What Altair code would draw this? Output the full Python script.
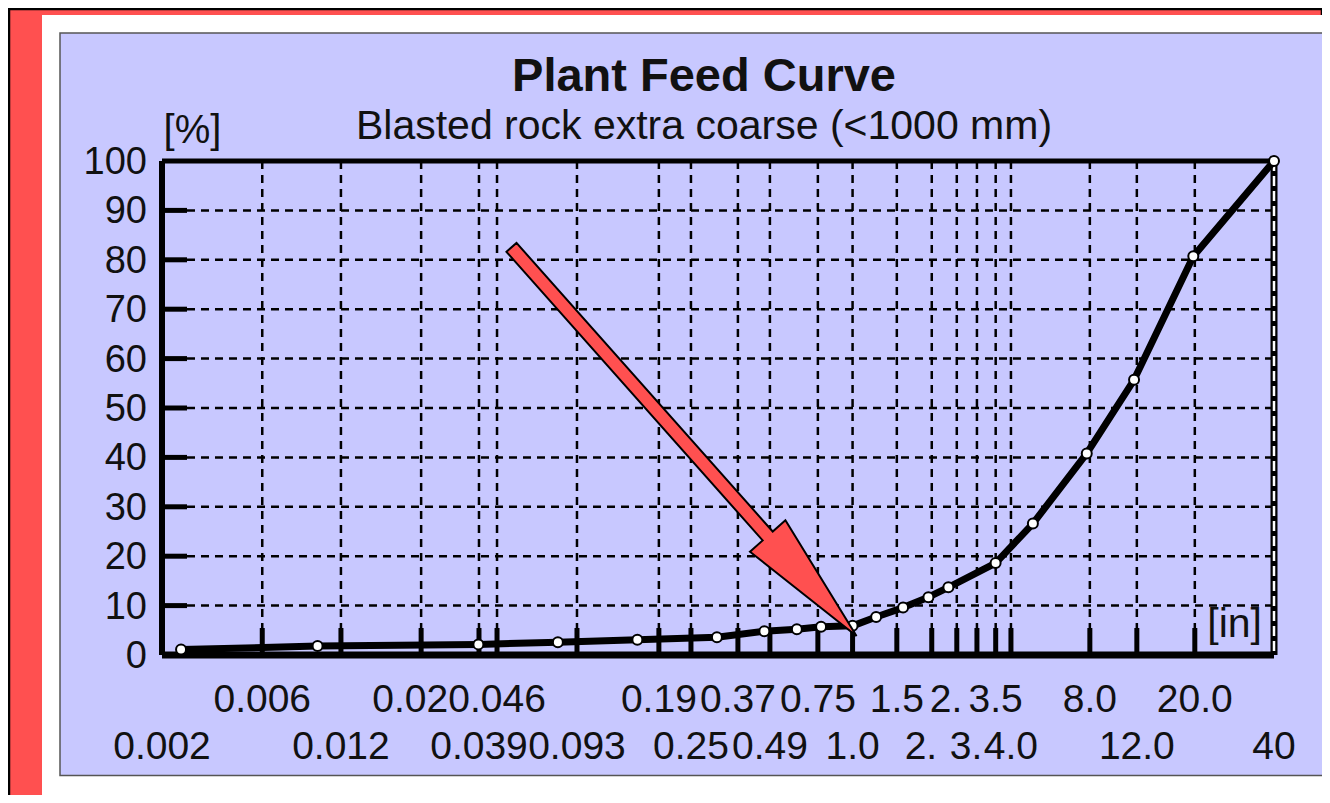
import altair as alt
import pandas as pd

# ---- data ----
size_in = [0.0028, 0.00925, 0.0378, 0.0758, 0.152, 0.305, 0.462, 0.614, 0.759, 1.0,
           1.229, 1.556, 1.942, 2.313, 3.497, 4.847, 7.767, 11.75, 19.74, 40.0]
passing_pct = [1.1, 1.8, 2.15, 2.6, 3.1, 3.6, 4.8, 5.2, 5.7, 5.9,
               7.7, 9.6, 11.7, 13.7, 18.6, 26.6, 40.8, 55.7, 80.7, 100.0]

tick_in = [0.00237, 0.0057, 0.01135, 0.0229, 0.038, 0.0445, 0.0896, 0.1835, 0.243, 0.3665,
           0.485, 0.738, 1.0, 1.473, 2.0, 2.49, 2.97, 3.5, 4.0, 7.98, 12.04, 20.0, 40.0]
# labels as they remain visible in the reference (later labels cover earlier ones)
tick_text = ["0.002", "0.006", "0.012", "0.02", "0.039", "0.046", "0.093", "0.19", "0.25", "0.37",
             "0.49", "0.75", "1.0", "1.5", "2.", "2.", "3.", "3.5", "4.0", "8.0",
             "12.0", "20.0", "40"]
# characters of the full label (clipped ones keep the full label's left edge)
tick_full_len = [5, 5, 5, 5, 5, 5, 5, 4, 4, 4,
                 4, 4, 3, 3, 3, 3, 3, 3, 3, 3,
                 4, 4, 2]
y_labels = [0, 10, 20, 30, 40, 50, 60, 70, 80, 90, 100]
y_grid = [10, 20, 30, 40, 50, 60, 70, 80, 90]

title_text = "Plant Feed Curve"
subtitle_text = "Blasted rock extra coarse (<1000 mm)"
y_unit = "[%]"
x_unit = "[in]"
arrow_tip_in = [1.035]
arrow_tip_pct = [3.85]

# ---- styling ----
W, H = 1112, 494
FONT = "Liberation Sans"
RED = "#FF5050"
LAV = "#C8C8FF"
TXT = "#111111"
LSIZE = 38
XLSIZE = 39

xs = alt.Scale(type="log", domain=[0.00237, 40], nice=False)
ys = alt.Scale(type="linear", domain=[0, 100], nice=False, zero=False)

one = pd.DataFrame({"k": [0]})


def box(x, x2, y, y2, **kw):
    return alt.Chart(one).mark_rect(**kw).encode(
        x=alt.value(x), x2=alt.value(x2), y=alt.value(y), y2=alt.value(y2))


def hline(y, x, x2, **kw):
    return alt.Chart(one).mark_rule(**kw).encode(
        y=alt.value(y), x=alt.value(x), x2=alt.value(x2))


def vline(x, y, y2, **kw):
    return alt.Chart(one).mark_rule(**kw).encode(
        x=alt.value(x), y=alt.value(y), y2=alt.value(y2))


def label(text, x, y, **kw):
    return alt.Chart(pd.DataFrame({"t": [text]})).mark_text(font=FONT, color=TXT, **kw).encode(
        text="t:N", x=alt.value(x), y=alt.value(y))


# backgrounds
outer = box(-153, 1160, -152, 660, fill=RED, stroke="black", strokeWidth=2.5)
white = box(-120, 1200, -146, 634, fill="white")
panel = box(-102, 1200, -128, 614.5, fill=LAV, stroke="#555555", strokeWidth=1.5)

# grid
ygrid_df = pd.DataFrame({"v": y_grid})
hgrid = alt.Chart(ygrid_df).mark_rule(color="black", strokeWidth=2.5, strokeDash=[8, 6]).encode(
    y=alt.Y("v:Q", scale=ys, axis=None), x=alt.value(25), x2=alt.value(W))
yticks = alt.Chart(ygrid_df).mark_rule(color="black", strokeWidth=5).encode(
    y=alt.Y("v:Q", scale=ys, axis=None), x=alt.value(0), x2=alt.value(25))

xt_df = pd.DataFrame({"t": tick_in[1:-1]})
vgrid = alt.Chart(xt_df).mark_rule(color="black", strokeWidth=2.5, strokeDash=[8, 6]).encode(
    x=alt.X("t:Q", scale=xs, axis=None), y=alt.value(0), y2=alt.value(H - 26))
xticks = alt.Chart(xt_df).mark_rule(color="black", strokeWidth=5).encode(
    x=alt.X("t:Q", scale=xs, axis=None), y=alt.value(H), y2=alt.value(H - 27))

# frame
f_left = vline(0, 0, H, color="black", strokeWidth=6)
f_top = hline(0, 0, W, color="black", strokeWidth=5)
f_bottom = hline(H, 0, W, color="black", strokeWidth=7)
f_right = vline(W, 0, H, color="black", strokeWidth=7)
f_right2 = vline(W, 0, H, color="white", strokeWidth=2.5, strokeDash=[10, 5])

# curve
curve = pd.DataFrame({"size": size_in, "pct": passing_pct, "o": list(range(len(size_in)))})
line = alt.Chart(curve).mark_line(color="black", strokeWidth=7, strokeJoin="round").encode(
    x=alt.X("size:Q", scale=xs, axis=None), y=alt.Y("pct:Q", scale=ys, axis=None), order="o:Q")
pts = alt.Chart(curve).mark_point(shape="circle", filled=True, fill="white", stroke="black",
                                   strokeWidth=2, size=100, opacity=1).encode(
    x=alt.X("size:Q", scale=xs, axis=None), y=alt.Y("pct:Q", scale=ys, axis=None))

# arrow (custom symbol, tip at the anchor point)
ARROW = "M0,0 L0.37,2.09 L0.105,2.09 L0.105,8.12 L-0.105,8.12 L-0.105,2.09 L-0.37,2.09 Z"
arrow = alt.Chart(pd.DataFrame({"x": arrow_tip_in, "y": arrow_tip_pct})).mark_point(
    shape=ARROW, size=16384, angle=138.4, filled=True, fill=RED, stroke="black",
    strokeWidth=2, opacity=1).encode(
    x=alt.X("x:Q", scale=xs, axis=None), y=alt.Y("y:Q", scale=ys, axis=None))

# y labels
ylab = alt.Chart(pd.DataFrame({"v": y_labels})).mark_text(
    font=FONT, fontSize=LSIZE, color=TXT, align="right", baseline="middle", dy=2).encode(
    y=alt.Y("v:Q", scale=ys, axis=None), x=alt.value(-15), text="v:Q")

# x labels in two alternating rows
rows = [2 if i % 2 == 0 else 1 for i in range(len(tick_in))]
clipped = [1 if len(tick_text[i]) < tick_full_len[i] else 0 for i in range(len(tick_in))]
xl_df = pd.DataFrame({"t": tick_in, "lab": tick_text, "n": tick_full_len,
                      "row": rows, "clip": clipped})
ROW_Y = {1: H + 45, 2: H + 92}

x_label_layers = []
for r in (1, 2):
    x_label_layers.append(
        alt.Chart(xl_df).transform_filter(f"datum.row == {r} && datum.clip == 0").mark_text(
            font=FONT, fontSize=XLSIZE, color=TXT, align="center", baseline="middle").encode(
            x=alt.X("t:Q", scale=xs, axis=None), y=alt.value(ROW_Y[r]), text="lab:N"))
    for n in sorted({tick_full_len[i] for i in range(len(tick_in)) if clipped[i] and rows[i] == r}):
        half_full = ((n - 1) * 0.556 + 0.278) * XLSIZE / 2
        x_label_layers.append(
            alt.Chart(xl_df).transform_filter(
                f"datum.row == {r} && datum.clip == 1 && datum.n == {n}").mark_text(
                font=FONT, fontSize=XLSIZE, color=TXT, align="left", baseline="middle",
                dx=-half_full).encode(
                x=alt.X("t:Q", scale=xs, axis=None), y=alt.value(ROW_Y[r]), text="lab:N"))

t_title = label(title_text, 542, -84.5, fontSize=47, fontWeight="bold", align="center", baseline="middle")
t_sub = label(subtitle_text, 542, -34.5, fontSize=41, align="center", baseline="middle")
t_yunit = label(y_unit, 30.5, -30.5, fontSize=40, align="center", baseline="middle")
t_xunit = label(x_unit, 1100, 464, fontSize=41, align="right", baseline="middle")

chart = alt.layer(
    outer, white, panel,
    hgrid, vgrid, yticks, xticks,
    f_left, f_top, f_bottom, f_right, f_right2,
    line, pts, arrow,
    ylab, *x_label_layers,
    t_title, t_sub, t_yunit, t_xunit,
).properties(
    width=W, height=H,
    autosize=alt.AutoSizeParams(type="none"),
    padding={"left": 154, "top": 153, "right": 48, "bottom": 140},
    background="white",
).configure_view(stroke=None)

chart.save("out.html", embed_options={"renderer": "svg", "actions": False})
